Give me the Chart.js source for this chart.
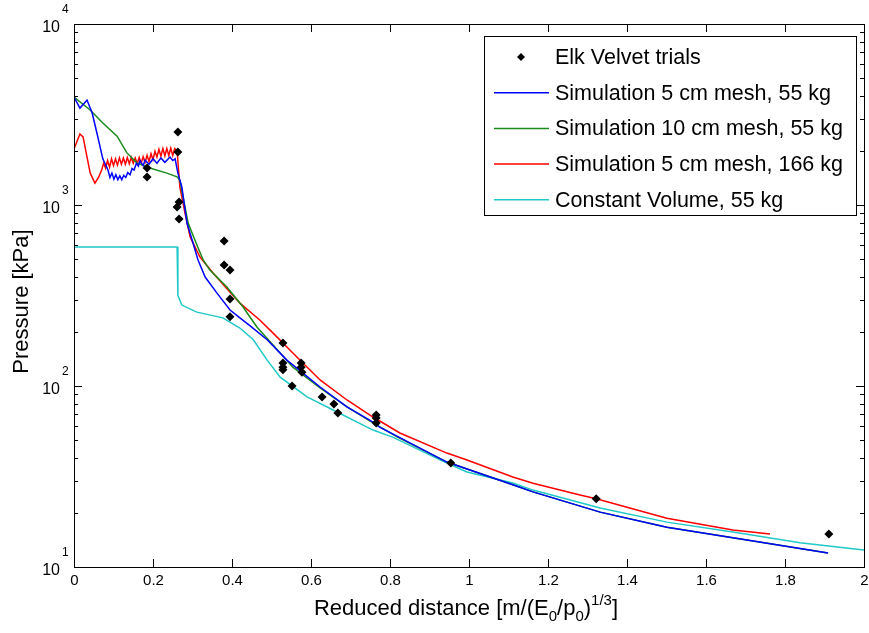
<!DOCTYPE html>
<html>
<head>
<meta charset="utf-8">
<script src="https://cdn.jsdelivr.net/npm/chart.js@4/dist/chart.umd.min.js"></script>
<style>
  html, body { margin: 0; padding: 0; background: #fff; }
  #wrap { width: 869px; height: 633px; }
</style>
</head>
<body>
<div id="wrap"><canvas id="chart" width="869" height="633"></canvas></div>
<script>
// Elk Velvet trial measurements
const trialX = [0.263, 0.263, 0.185, 0.185, 0.266, 0.261, 0.266, 0.380, 0.380, 0.395, 0.395, 0.395,
  0.529, 0.529, 0.529, 0.529, 0.552, 0.575, 0.575, 0.577, 0.628, 0.658, 0.668, 0.765, 0.765, 0.765,
  0.954, 1.322, 1.911];
const trialY = [2530, 1960, 1600, 1430, 1040, 975, 837, 632, 466, 437, 302, 241,
  173, 134, 127, 123, 100, 134, 127, 119, 87, 79.6, 71, 69.2, 66.5, 62.5,
  37.5, 23.8, 15.2];

// Simulation 5 cm mesh, 55 kg
const blueX = [0, 0.015, 0.033, 0.046, 0.058, 0.073, 0.086, 0.091, 0.096, 0.101, 0.106, 0.111, 0.116,
  0.121, 0.126, 0.131, 0.136, 0.142, 0.147, 0.152, 0.158, 0.163, 0.167, 0.175, 0.18, 0.19, 0.2, 0.21,
  0.22, 0.23, 0.243, 0.25, 0.256, 0.263, 0.273, 0.286, 0.299, 0.314, 0.332, 0.362, 0.395, 0.42,
  0.446, 0.489, 0.539, 0.623, 0.691, 0.757, 0.775, 0.944, 0.995, 1.111, 1.162, 1.332, 1.501, 1.668,
  1.909];
const blueY = [3950, 3430, 3800, 3220, 2500, 1800, 1560, 1420, 1500, 1390, 1470, 1380, 1450,
  1380, 1460, 1420, 1510, 1470, 1590, 1560, 1700, 1640, 1760, 1650, 1770, 1680, 1800, 1700,
  1820, 1720, 1840, 1760, 1800, 1500, 1257, 795, 641, 497, 400, 326, 263, 238,
  215, 180, 139, 98.7, 76.6, 63.2, 59, 38, 34.8, 28.5, 26.0, 20.1, 16.6, 14.5,
  11.95];

// Simulation 10 cm mesh, 55 kg
const greenX = [0, 0.041, 0.073, 0.109, 0.134, 0.159, 0.192, 0.235, 0.261, 0.268, 0.276, 0.289,
  0.306, 0.327, 0.344, 0.387, 0.428, 0.463, 0.504, 0.554, 0.623, 0.691, 0.757, 0.818, 0.944,
  0.995, 1.111, 1.162, 1.332, 1.501, 1.668, 1.909];
const greenY = [3950, 3350, 2840, 2400, 1940, 1710, 1600, 1500, 1430, 1370, 1107, 795,
  641, 497, 437, 352, 273, 212, 168.5, 127, 97.5, 76.6, 62.5, 52.3, 38,
  34.8, 28.5, 26.0, 20.1, 16.6, 14.5, 11.95];

// Simulation 5 cm mesh, 166 kg
const redX = [0, 0.015, 0.023, 0.033, 0.041, 0.053, 0.062, 0.07, 0.075, 0.08, 0.085, 0.09, 0.095,
  0.1, 0.105, 0.11, 0.115, 0.12, 0.125, 0.13, 0.135, 0.14, 0.145, 0.15, 0.155, 0.16, 0.165, 0.17,
  0.175, 0.18, 0.185, 0.19, 0.195, 0.2, 0.205, 0.21, 0.215, 0.22, 0.225, 0.23, 0.235, 0.24, 0.245,
  0.25, 0.255, 0.261, 0.268, 0.281, 0.294, 0.319, 0.352, 0.39, 0.42, 0.471, 0.504, 0.554,
  0.623, 0.691, 0.757, 0.825, 0.944, 0.995, 1.111, 1.162, 1.281, 1.322, 1.501, 1.668, 1.762];
const redY = [2040, 2470, 2380, 1840, 1500, 1320, 1420, 1560, 1700, 1600, 1760, 1620, 1800,
  1650, 1800, 1660, 1820, 1680, 1820, 1680, 1830, 1690, 1830, 1700, 1820, 1690, 1830, 1700,
  1850, 1720, 1880, 1740, 1920, 1780, 1980, 1840, 2030, 1860, 2050, 1870, 2050, 1880, 2060,
  1880, 2050, 2000, 1257, 903, 666, 516, 421, 339, 287, 231, 196, 152,
  108, 83.7, 67.4, 55.0, 42.6, 39.0, 31.4, 29.0, 25.0, 23.8, 18.6, 16.0, 15.2];

// Constant Volume, 55 kg
const cyanX = [0, 0.261, 0.263, 0.273, 0.311, 0.377, 0.42, 0.454, 0.489, 0.522, 0.59, 0.656,
  0.757, 0.808, 0.944, 0.995, 1.111, 1.162, 1.332, 1.501, 1.668, 1.838, 2.0];
const cyanY = [586, 586, 317, 280, 256, 238, 209, 180, 139, 112, 87, 73.7,
  57.1, 52, 37.5, 33.5, 29.1, 26.6, 21.2, 17.7, 15.6, 13.6, 12.4];

const seriesLabels = ['Elk Velvet trials', 'Simulation 5 cm mesh, 55 kg', 'Simulation 10 cm mesh, 55 kg',
  'Simulation 5 cm mesh, 166 kg', 'Constant Volume, 55 kg'];
const xTicks = [0, 0.2, 0.4, 0.6, 0.8, 1, 1.2, 1.4, 1.6, 1.8, 2];
const xTickLabels = ['0', '0.2', '0.4', '0.6', '0.8', '1', '1.2', '1.4', '1.6', '1.8', '2'];
const yDecades = [10, 100, 1000, 10000];
const yExponents = ['1', '2', '3', '4'];

const FONT = '"Liberation Sans", Arial, sans-serif';

function toPoints(xs, ys) {
  return xs.map((x, i) => ({ x: x, y: ys[i] }));
}

function lineSet(label, xs, ys, color) {
  return {
    type: 'line',
    label: label,
    data: toPoints(xs, ys),
    borderColor: color,
    backgroundColor: color,
    borderWidth: 1.5,
    pointRadius: 0,
    tension: 0,
    fill: false
  };
}

const axesPlugin = {
  id: 'matlabAxes',
  afterDraw(chart) {
    const ctx = chart.ctx;
    const a = chart.chartArea;
    const xs = chart.scales.x;
    const ys = chart.scales.y;
    ctx.save();
    ctx.strokeStyle = '#000';
    ctx.lineWidth = 1;
    ctx.strokeRect(a.left + 0.5, a.top + 0.5, a.right - a.left, a.bottom - a.top);

    // x ticks
    ctx.fillStyle = '#000';
    ctx.font = '15px ' + FONT;
    ctx.textAlign = 'center';
    ctx.textBaseline = 'middle';
    xTicks.forEach((v, i) => {
      const px = Math.round(xs.getPixelForValue(v)) + 0.5;
      ctx.beginPath();
      ctx.moveTo(px, a.bottom); ctx.lineTo(px, a.bottom - 8);
      ctx.moveTo(px, a.top); ctx.lineTo(px, a.top + 8);
      ctx.stroke();
      ctx.fillText(xTickLabels[i], px, a.bottom + 14);
    });

    // y ticks (log)
    for (let d = 0; d < yDecades.length; d++) {
      const base = yDecades[d];
      for (let m = 1; m <= 9; m++) {
        const v = base * m;
        if (v > 10000) break;
        const py = Math.round(ys.getPixelForValue(v)) + 0.5;
        const len = m === 1 ? 8 : 4;
        ctx.beginPath();
        ctx.moveTo(a.left, py); ctx.lineTo(a.left + len, py);
        ctx.moveTo(a.right, py); ctx.lineTo(a.right - len, py);
        ctx.stroke();
      }
      const py = ys.getPixelForValue(base);
      ctx.textAlign = 'right';
      ctx.font = '16px ' + FONT;
      ctx.fillText('10', a.left - 14, py + 4);
      ctx.textAlign = 'left';
      ctx.font = '12px ' + FONT;
      ctx.fillText(yExponents[d], a.left - 12, py - 14);
    }

    // x title with sub/superscripts
    const parts = [
      ['Reduced distance [m/(E', 0], ['0', 1], ['/p', 0], ['0', 1], [')', 0], ['1/3', -1], [']', 0]
    ];
    const big = '22px ' + FONT, small = '15px ' + FONT;
    let total = 0;
    parts.forEach(p => { ctx.font = p[1] === 0 ? big : small; total += ctx.measureText(p[0]).width; });
    let cx = (a.left + a.right) / 2 - total / 2 - 3;
    const baseY = 615;
    ctx.textAlign = 'left';
    ctx.textBaseline = 'alphabetic';
    parts.forEach(p => {
      ctx.font = p[1] === 0 ? big : small;
      const dy = p[1] === 1 ? 6 : (p[1] === -1 ? -10 : 0);
      ctx.fillText(p[0], cx, baseY + dy);
      cx += ctx.measureText(p[0]).width;
    });

    // y title
    ctx.save();
    ctx.translate(22, (a.top + a.bottom) / 2 + 6);
    ctx.rotate(-Math.PI / 2);
    ctx.font = big;
    ctx.textAlign = 'center';
    ctx.textBaseline = 'middle';
    ctx.fillText('Pressure [kPa]', 0, 0);
    ctx.restore();

    // legend box
    const lx = 484, ly = 36, lw = 372, lh = 179;
    ctx.fillStyle = '#fff';
    ctx.fillRect(lx, ly, lw, lh);
    ctx.strokeStyle = '#000';
    ctx.strokeRect(lx + 0.5, ly + 0.5, lw, lh);
    ctx.font = '21.5px ' + FONT;
    ctx.textAlign = 'left';
    ctx.textBaseline = 'middle';
    chart.data.datasets.forEach((ds, i) => {
      const ry = ly + 21 + i * 35.7;
      if (i === 0) {
        ctx.fillStyle = '#000';
        ctx.beginPath();
        ctx.moveTo(521, ry - 4); ctx.lineTo(525, ry); ctx.lineTo(521, ry + 4); ctx.lineTo(517, ry);
        ctx.closePath();
        ctx.fill();
      } else {
        ctx.strokeStyle = ds.borderColor;
        ctx.lineWidth = 1.5;
        ctx.beginPath();
        ctx.moveTo(494, ry); ctx.lineTo(549, ry);
        ctx.stroke();
      }
      ctx.fillStyle = '#000';
      ctx.fillText(ds.label, 555, ry + 1);
    });
    ctx.restore();
  }
};

const chart = new Chart(document.getElementById('chart'), {
  data: {
    datasets: [
      {
        type: 'scatter',
        label: seriesLabels[0],
        data: toPoints(trialX, trialY),
        pointStyle: 'rectRot',
        pointRadius: 4.5,
        backgroundColor: '#000',
        borderColor: '#000',
        borderWidth: 0,
        order: 0
      },
      lineSet(seriesLabels[1], blueX, blueY, '#0000ff'),
      lineSet(seriesLabels[2], greenX, greenY, '#1a8a1a'),
      lineSet(seriesLabels[3], redX, redY, '#ff0000'),
      lineSet(seriesLabels[4], cyanX, cyanY, '#20c8c8')
    ]
  },
  options: {
    responsive: false,
    animation: false,
    layout: { padding: { left: 74, right: 5, top: 24, bottom: 66 } },
    plugins: {
      legend: { display: false },
      tooltip: { enabled: false }
    },
    scales: {
      x: { type: 'linear', min: 0, max: 2, display: false },
      y: { type: 'logarithmic', min: 10, max: 10000, display: false }
    }
  },
  plugins: [axesPlugin]
});
</script>
</body>
</html>
